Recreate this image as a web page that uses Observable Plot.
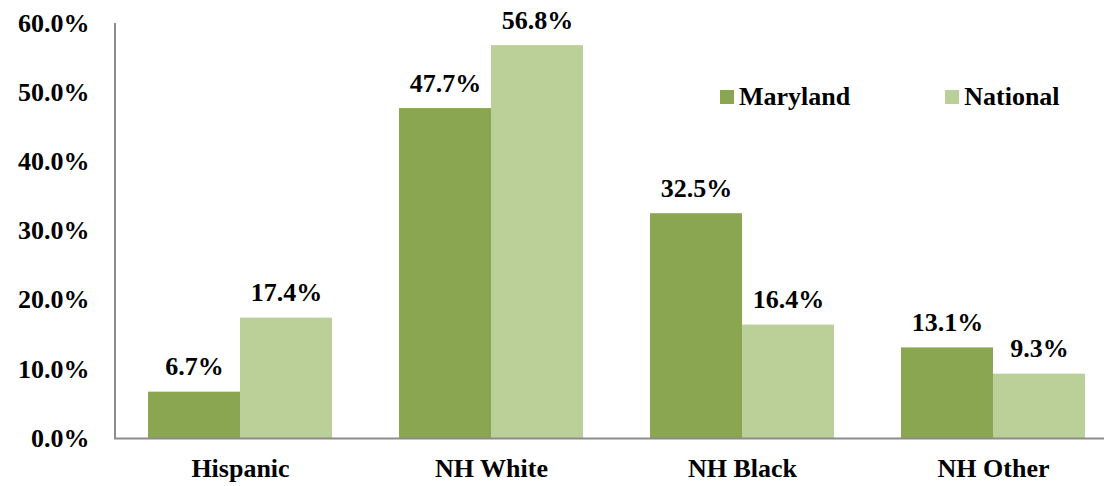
<!DOCTYPE html>
<html>
<head>
<meta charset="utf-8">
<script src="https://cdn.jsdelivr.net/npm/d3@7"></script>
<script src="https://cdn.jsdelivr.net/npm/@observablehq/plot@0.6"></script>
<style>
  body { margin: 0; background: #fff; }
  #wrap { position: relative; width: 1104px; height: 486px; font-family: "Liberation Serif", "Times New Roman", serif; }
  #wrap svg, #wrap svg text { font-family: "Liberation Serif", "Times New Roman", serif !important; font-weight: bold; }
  #legend { position: absolute; left: 720px; top: 84px; display: flex; gap: 95px; font-size: 26px; font-weight: bold; line-height: 1; color: #000; }
  .item { display: flex; align-items: center; gap: 5px; }
  .sw { width: 14px; height: 14px; display: inline-block; }
</style>
</head>
<body>
<div id="wrap"></div>
<script>
const categories = ["Hispanic", "NH White", "NH Black", "NH Other"];
const maryland = [6.7, 47.7, 32.5, 13.1];
const national = [17.4, 56.8, 16.4, 9.3];
const seriesNames = ["Maryland", "National"];
const seriesColors = ["#8ba650", "#bbcf98"];
const yTicks = [0, 10, 20, 30, 40, 50, 60];

const half = 0.3665; // bar width as fraction of a category band
const data = categories.flatMap((c, i) => [
  {cat: c, s: seriesNames[0], v: maryland[i], x1: i - half, x2: i},
  {cat: c, s: seriesNames[1], v: national[i], x1: i, x2: i + half}
]);
const fmt = d => d.toFixed(1) + "%";
const serif = "Liberation Serif, Times New Roman, serif";

const chart = Plot.plot({
  width: 1104,
  height: 486,
  marginLeft: 114,
  marginRight: 0,
  marginTop: 23,
  marginBottom: 48,
  style: {fontFamily: serif, fontSize: "26px", fontWeight: "bold", color: "#000", background: "#fff"},
  x: {type: "linear", domain: [-0.5, 3.5], range: [114.5, 1118.5]},
  y: {domain: [0, 60]},
  color: {domain: seriesNames, range: seriesColors},
  marks: [
    Plot.rectY(data, {x1: "x1", x2: "x2", y: "v", fill: "s"}),
    Plot.text(data, {x: d => (d.x1 + d.x2) / 2, y: "v", text: d => fmt(d.v), lineAnchor: "bottom", dy: -17, fill: "#000", fontFamily: serif, fontWeight: "bold", fontSize: 26}),
    Plot.ruleY([0], {stroke: "#8c8c8c", strokeWidth: 2}),
    Plot.ruleX([-0.5], {stroke: "#8c8c8c", strokeWidth: 2}),
    Plot.axisY({ticks: yTicks, tickFormat: fmt, tickSize: 0, tickPadding: 25, label: null, fontFamily: serif, fontWeight: "bold"}),
    Plot.axisX({ticks: [0, 1, 2, 3], tickFormat: i => categories[i], tickSize: 0, tickPadding: 20, label: null, fontFamily: serif, fontWeight: "bold"})
  ]
});
const wrap = document.getElementById("wrap");
wrap.appendChild(chart);

const legend = document.createElement("div");
legend.id = "legend";
seriesNames.forEach((name, k) => {
  const item = document.createElement("div");
  item.className = "item";
  const sw = document.createElement("span");
  sw.className = "sw";
  sw.style.background = seriesColors[k];
  const t = document.createElement("span");
  t.textContent = name;
  item.appendChild(sw);
  item.appendChild(t);
  legend.appendChild(item);
});
wrap.appendChild(legend);
</script>
</body>
</html>
